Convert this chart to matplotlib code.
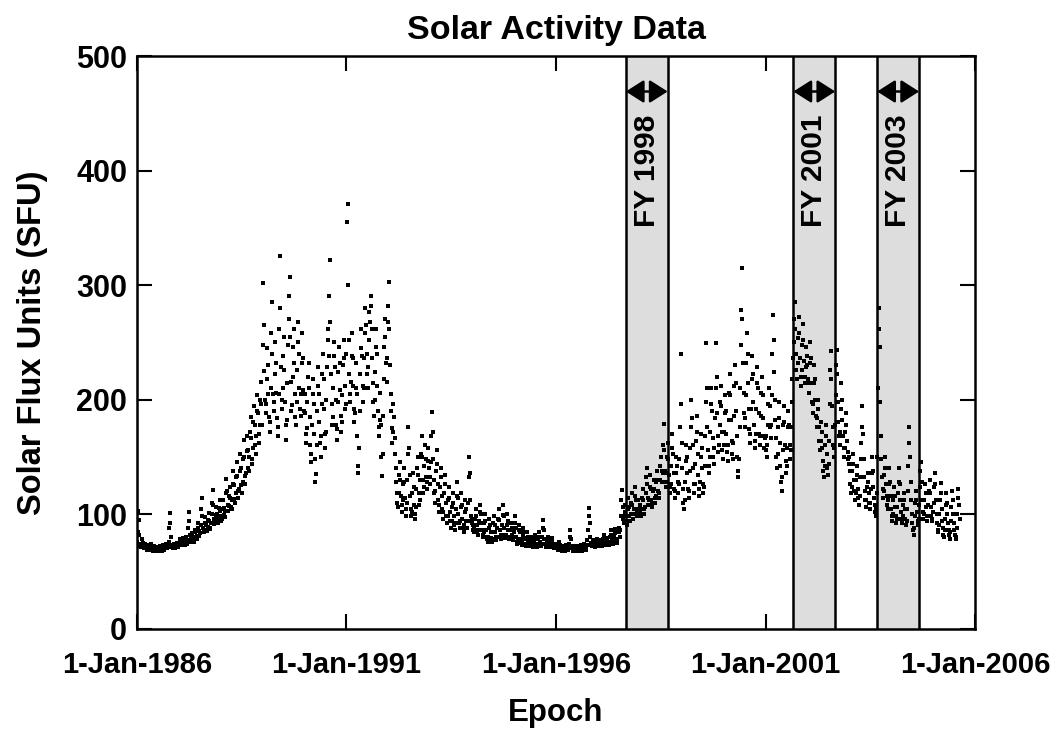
import pandas as pd
import matplotlib
matplotlib.use("Agg")
import matplotlib.pyplot as plt

plt.rcParams['font.family'] = ['Liberation Sans', 'DejaVu Sans']
plt.rcParams['font.weight'] = 'bold'

# ---------------- DATA ---------------- #
# solar flux (SFU), one value every 5 days from 1-Jan of each year
f1986 = [76, 84, 103, 95, 82, 74, 72, 71, 73, 78, 75, 72, 70, 71, 74, 72, 70, 69, 71, 73, 72, 70, 69, 70, 72, 74, 71, 69, 68, 70, 72, 71, 69, 68, 69, 71, 70, 68, 68, 70, 72, 70, 69, 68, 69, 71, 73, 71, 69, 70, 72, 74, 72, 70, 71, 76, 88, 101, 92, 80, 73, 71, 70, 72, 74, 72, 70, 71, 73, 75, 73, 71, 72]
f1987 = [73, 75, 78, 76, 74, 73, 75, 79, 77, 74, 73, 76, 80, 78, 75, 74, 88, 102, 94, 82, 77, 76, 79, 83, 80, 77, 76, 80, 86, 84, 80, 78, 81, 88, 92, 85, 81, 83, 90, 104, 114, 98, 88, 84, 86, 92, 97, 90, 86, 85, 89, 95, 101, 94, 88, 87, 92, 100, 110, 121, 108, 96, 91, 93, 99, 106, 100, 94, 92, 97, 105, 112, 103]
f1988 = [98, 94, 96, 104, 112, 105, 99, 97, 103, 118, 131, 120, 108, 103, 107, 116, 124, 114, 106, 104, 112, 126, 138, 125, 113, 110, 118, 132, 145, 133, 120, 114, 122, 138, 152, 140, 125, 118, 128, 148, 165, 150, 133, 126, 136, 155, 168, 156, 140, 138, 150, 172, 185, 166, 148, 144, 158, 180, 194, 178, 160, 152, 168, 190, 204, 188, 170, 162, 178, 200, 215, 196, 178]
f1989 = [248, 302, 265, 225, 200, 188, 196, 218, 245, 230, 205, 185, 172, 180, 210, 258, 285, 240, 205, 190, 198, 222, 250, 232, 206, 184, 168, 176, 205, 262, 325, 280, 228, 200, 192, 210, 238, 255, 226, 198, 178, 165, 182, 214, 248, 270, 290, 307, 255, 215, 190, 195, 220, 246, 262, 232, 205, 185, 178, 198, 226, 250, 268, 240, 210, 192, 186, 205, 232, 258, 236, 208, 190]
f1990 = [205, 188, 170, 162, 175, 198, 220, 232, 210, 185, 160, 145, 152, 178, 205, 218, 196, 170, 148, 128, 135, 160, 190, 212, 228, 205, 180, 162, 150, 168, 196, 222, 240, 218, 192, 170, 158, 172, 200, 228, 252, 262, 238, 290, 322, 268, 222, 196, 178, 185, 210, 238, 250, 228, 200, 178, 165, 174, 198, 224, 246, 232, 208, 186, 172, 180, 204, 230, 252, 236, 212, 192, 196]
f1991 = [240, 355, 371, 300, 252, 222, 205, 198, 215, 238, 258, 236, 212, 192, 180, 188, 210, 232, 205, 168, 142, 136, 158, 190, 222, 245, 262, 238, 212, 198, 210, 236, 258, 280, 265, 240, 222, 210, 228, 252, 276, 268, 282, 290, 262, 236, 214, 198, 186, 200, 224, 246, 262, 240, 212, 190, 176, 168, 182, 206, 178, 150, 133, 152, 186, 218, 246, 270, 255, 232, 215, 236, 268]
f1992 = [282, 303, 262, 230, 205, 190, 175, 162, 172, 196, 185, 166, 152, 140, 128, 118, 110, 106, 118, 134, 145, 130, 116, 108, 102, 112, 126, 140, 128, 114, 104, 98, 110, 130, 152, 176, 158, 134, 116, 104, 98, 102, 118, 136, 124, 108, 100, 96, 106, 122, 140, 150, 134, 118, 108, 112, 130, 152, 168, 150, 130, 118, 124, 142, 160, 148, 132, 122, 128, 146, 158, 140, 126]
f1993 = [132, 145, 168, 189, 172, 148, 130, 118, 110, 120, 138, 156, 144, 126, 112, 102, 108, 124, 140, 132, 116, 104, 96, 102, 118, 134, 126, 110, 98, 92, 98, 112, 124, 114, 102, 94, 88, 94, 106, 118, 110, 98, 90, 86, 92, 104, 116, 128, 114, 100, 92, 88, 94, 106, 118, 108, 96, 88, 84, 90, 102, 112, 104, 94, 88, 94, 110, 132, 150, 136, 112, 98, 92]
f1994 = [96, 90, 86, 84, 88, 96, 104, 98, 90, 85, 82, 86, 94, 102, 108, 100, 92, 86, 82, 80, 84, 92, 100, 94, 86, 80, 78, 76, 80, 88, 96, 90, 84, 79, 76, 78, 84, 92, 98, 90, 84, 80, 77, 80, 88, 96, 104, 95, 86, 80, 78, 82, 90, 99, 108, 98, 88, 82, 79, 82, 90, 100, 94, 86, 80, 78, 80, 86, 92, 88, 82, 78, 77]
f1995 = [84, 92, 98, 88, 80, 76, 74, 78, 86, 90, 84, 78, 75, 73, 76, 82, 88, 84, 78, 74, 72, 74, 79, 84, 80, 76, 73, 72, 75, 80, 78, 74, 72, 71, 73, 77, 82, 78, 74, 72, 71, 73, 78, 84, 80, 76, 73, 72, 74, 80, 88, 95, 86, 78, 74, 72, 71, 73, 76, 80, 77, 74, 72, 71, 72, 75, 79, 76, 73, 71, 70, 72, 74]
f1996 = [73, 72, 70, 69, 71, 74, 76, 73, 71, 69, 68, 70, 72, 71, 69, 68, 69, 71, 73, 72, 70, 69, 70, 74, 80, 86, 78, 72, 70, 69, 68, 70, 72, 71, 69, 68, 69, 71, 72, 70, 69, 68, 70, 73, 71, 69, 68, 69, 72, 74, 72, 70, 69, 70, 73, 77, 86, 98, 105, 92, 80, 75, 73, 72, 74, 77, 75, 73, 71, 72, 75, 78, 76]
f1997 = [74, 73, 72, 74, 77, 75, 73, 72, 74, 78, 82, 79, 76, 74, 73, 75, 79, 76, 74, 73, 75, 80, 86, 82, 78, 75, 74, 77, 82, 87, 83, 78, 76, 75, 78, 84, 88, 84, 80, 86, 98, 112, 121, 106, 96, 92, 98, 108, 102, 94, 90, 94, 104, 114, 106, 98, 94, 100, 110, 118, 108, 100, 96, 104, 116, 124, 112, 104, 98, 102, 112, 104, 98]
f1998 = [108, 102, 98, 104, 114, 122, 112, 104, 100, 106, 118, 132, 140, 126, 114, 108, 112, 124, 134, 122, 112, 106, 110, 120, 130, 122, 114, 110, 116, 128, 138, 130, 120, 114, 118, 130, 142, 150, 138, 128, 136, 160, 179, 156, 138, 128, 124, 136, 150, 162, 148, 134, 124, 118, 126, 142, 158, 170, 152, 136, 122, 114, 120, 136, 150, 142, 128, 118, 126, 148, 176, 240, 196]
f1999 = [162, 140, 122, 110, 104, 112, 128, 146, 160, 150, 136, 122, 114, 120, 138, 158, 176, 200, 184, 160, 140, 126, 118, 126, 144, 164, 186, 172, 152, 134, 122, 116, 128, 150, 170, 158, 140, 126, 118, 124, 142, 168, 198, 249, 210, 176, 156, 142, 136, 150, 172, 196, 210, 190, 166, 150, 144, 158, 184, 210, 249, 220, 188, 168, 154, 160, 178, 198, 212, 194, 172, 156, 148]
f2000 = [160, 172, 188, 204, 190, 170, 154, 146, 160, 182, 206, 222, 204, 182, 164, 152, 148, 162, 186, 212, 230, 214, 190, 168, 150, 138, 132, 148, 176, 210, 248, 278, 315, 270, 232, 206, 188, 176, 184, 204, 232, 258, 240, 214, 192, 174, 162, 170, 192, 218, 238, 222, 198, 178, 164, 158, 170, 192, 214, 228, 210, 188, 170, 160, 168, 186, 206, 220, 204, 184, 168, 158, 166]
f2001 = [168, 156, 150, 160, 178, 196, 210, 194, 176, 166, 178, 204, 240, 274, 252, 224, 200, 182, 166, 150, 140, 152, 176, 198, 184, 162, 142, 128, 120, 132, 156, 178, 194, 180, 160, 146, 136, 142, 158, 176, 190, 178, 160, 148, 156, 176, 198, 218, 236, 250, 270, 285, 262, 240, 226, 218, 232, 254, 272, 258, 236, 220, 212, 226, 248, 266, 252, 234, 220, 214, 228, 246, 238]
f2002 = [230, 218, 206, 214, 232, 250, 236, 214, 198, 188, 196, 214, 230, 218, 200, 186, 176, 184, 200, 192, 176, 164, 156, 164, 180, 172, 158, 146, 138, 132, 142, 160, 178, 168, 152, 140, 134, 144, 164, 196, 226, 242, 218, 194, 176, 160, 150, 158, 178, 204, 230, 243, 222, 198, 180, 168, 160, 172, 192, 214, 200, 182, 168, 158, 150, 158, 172, 188, 178, 164, 154, 148, 144]
f2003 = [150, 138, 126, 118, 124, 138, 152, 144, 130, 120, 112, 118, 130, 142, 134, 122, 114, 108, 116, 132, 148, 162, 176, 194, 170, 148, 132, 120, 112, 106, 112, 124, 136, 128, 118, 110, 104, 110, 122, 136, 150, 138, 124, 114, 108, 102, 98, 104, 118, 150, 210, 262, 280, 246, 198, 168, 148, 132, 122, 114, 120, 134, 150, 140, 126, 116, 108, 104, 112, 126, 140, 128, 116]
f2004 = [104, 98, 94, 100, 112, 124, 116, 106, 98, 92, 96, 106, 118, 128, 140, 126, 112, 102, 96, 92, 98, 108, 118, 112, 104, 96, 90, 94, 104, 120, 142, 162, 176, 150, 128, 112, 100, 92, 86, 82, 88, 98, 110, 120, 112, 102, 94, 90, 96, 108, 124, 138, 145, 128, 112, 102, 96, 100, 112, 126, 118, 106, 98, 94, 98, 108, 120, 130, 118, 106, 98, 94, 96]
f2005 = [102, 110, 124, 136, 126, 112, 100, 92, 86, 84, 90, 100, 112, 127, 118, 104, 94, 88, 82, 80, 86, 96, 108, 118, 110, 100, 92, 86, 82, 78, 84, 94, 106, 120, 112, 100, 92, 86, 82, 78, 80, 88, 100, 114, 122, 108, 96]

yearly = {1986: f1986, 1987: f1987, 1988: f1988, 1989: f1989, 1990: f1990,
          1991: f1991, 1992: f1992, 1993: f1993, 1994: f1994, 1995: f1995,
          1996: f1996, 1997: f1997, 1998: f1998, 1999: f1999, 2000: f2000,
          2001: f2001, 2002: f2002, 2003: f2003, 2004: f2004, 2005: f2005}

# fiscal year windows
fy_labels = ['FY 1998', 'FY 2001', 'FY 2003']
fy_start = ['1997-09-01', '2001-09-01', '2003-09-01']
fy_end = ['1998-09-01', '2002-09-01', '2004-09-01']

tick_dates = ['1986-01-01', '1991-01-01', '1996-01-01', '2001-01-01', '2006-01-01']
tick_labels = ['1-Jan-1986', '1-Jan-1991', '1-Jan-1996', '1-Jan-2001', '1-Jan-2006']

# build one frame
frames = []
for yr, vals in yearly.items():
    d = pd.date_range(f'{yr}-01-01', periods=len(vals), freq='5D')
    frames.append(pd.DataFrame({'Date': d, 'Flux': vals}))
df = pd.concat(frames, ignore_index=True)

# ---------------- PLOT ---------------- #
fig = plt.figure(figsize=(10.56, 7.34), dpi=100)
ax = fig.add_axes([0.1297, 0.1437, 0.7936, 0.78])

for lab, s, e in zip(fy_labels, fy_start, fy_end):
    s, e = pd.Timestamp(s), pd.Timestamp(e)
    ax.axvspan(s, e, facecolor='#dcdddc', edgecolor='none', zorder=0)
    ax.axvline(s, color='black', lw=1.8, zorder=3)
    ax.axvline(e, color='black', lw=1.8, zorder=3)
    ax.annotate('', xy=(e, 469), xytext=(s, 469),
                arrowprops=dict(arrowstyle='<|-|>,head_length=0.55,head_width=0.35',
                                color='black', lw=1.8, mutation_scale=20,
                                shrinkA=0, shrinkB=0), zorder=4)
    mid = s + (e - s) / 2
    ax.text(mid, 400, lab, rotation=90, ha='center', va='center',
            fontsize=21.5, fontweight='bold', zorder=4)

ax.plot(df['Date'], df['Flux'], linestyle='none', marker='s', markersize=2.3,
        markeredgewidth=0, color='black', zorder=2)

ax.set_xlim(pd.Timestamp(tick_dates[0]), pd.Timestamp(tick_dates[-1]))
ax.set_ylim(0, 500)
ax.set_xticks([pd.Timestamp(t) for t in tick_dates])
ax.set_xticklabels(tick_labels)
ax.set_yticks([0, 100, 200, 300, 400, 500])

ax.tick_params(direction='in', length=11, width=1.5, top=True, right=True,
               labelsize=22, pad=7)
ax.tick_params(axis='x', pad=16, labelsize=21)
for sp in ax.spines.values():
    sp.set_linewidth(1.8)

ax.set_title('Solar Activity Data', fontsize=24.5, fontweight='bold', pad=12)
ax.set_xlabel('Epoch', fontsize=22.5, fontweight='bold', labelpad=14)
ax.set_ylabel('Solar Flux Units (SFU)', fontsize=23.5, fontweight='bold', labelpad=20)

fig.savefig('out.png', dpi=100)
